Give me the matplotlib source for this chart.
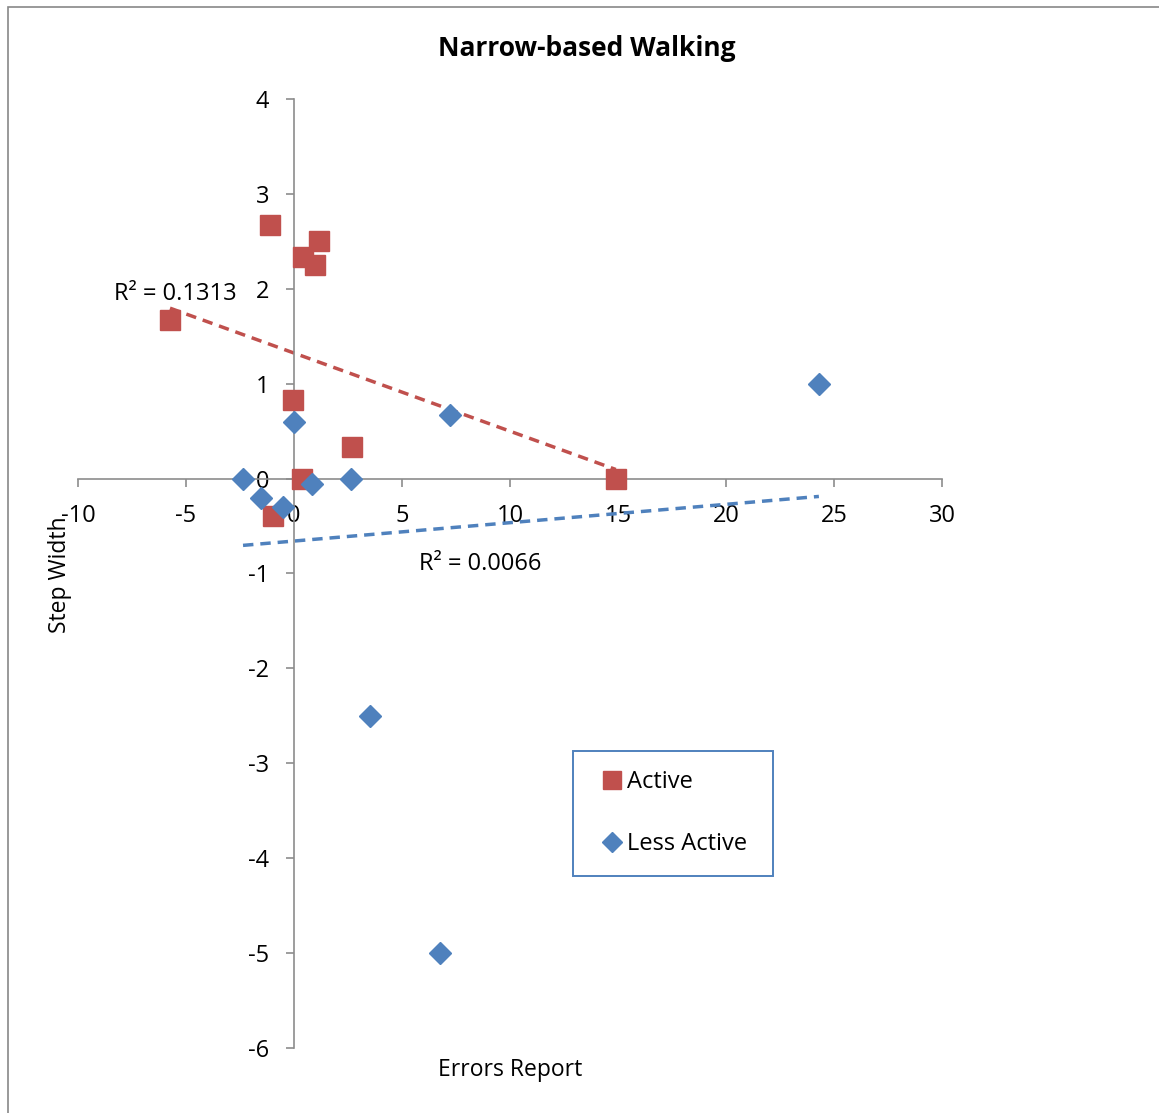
import matplotlib
matplotlib.use("Agg")
import matplotlib.pyplot as plt
from matplotlib.patches import Rectangle
import numpy as np

plt.rcParams['font.family'] = ['Open Sans', 'DejaVu Sans']
plt.rcParams['axes.unicode_minus'] = False

active_x = [-1.11, 1.16, 0.42, 0.97, -5.74, -0.05, 2.69, 0.37, 14.9, -0.97]
active_y = [2.67, 2.50, 2.33, 2.25, 1.67, 0.83, 0.33, 0.0, 0.0, -0.39]
less_x = [24.3, 0.0, 7.2, -2.36, 2.64, -1.53, -0.5, 0.83, 3.5, 6.76]
less_y = [1.0, 0.6, 0.67, 0.0, 0.0, -0.2, -0.3, -0.06, -2.5, -5.0]
r2_active = "R² = 0.1313"
r2_less = "R² = 0.0066"
x_ticks = [-10, -5, 0, 5, 10, 15, 20, 25, 30]
y_ticks = [-6, -5, -4, -3, -2, -1, 0, 1, 2, 3, 4]

red = '#C0504D'
blue = '#4F81BD'
W, H = 1159, 1113

fig = plt.figure(figsize=(11.59, 11.13), dpi=100)
fig.patches.append(Rectangle((8/W, -0.1), 1.2, 0.1 + 1 - 7/H, transform=fig.transFigure,
                             fill=False, edgecolor='#888888', linewidth=1.2))
ax = fig.add_axes([78/W, 1 - 1048/H, 864/W, 949/H])
ax.set_xlim(-10, 30)
ax.set_ylim(-6, 4)

for s in ['top', 'right']:
    ax.spines[s].set_visible(False)
ax.spines['left'].set_position(('data', 0))
ax.spines['bottom'].set_position(('data', 0))
for s in ['left', 'bottom']:
    ax.spines[s].set_color('#8C8C8C')
    ax.spines[s].set_linewidth(1.2)
ax.set_xticks(x_ticks)
ax.set_yticks(y_ticks)
ax.tick_params(axis='both', direction='out', length=6, color='#8C8C8C', labelsize=17, width=1.2)
ax.tick_params(axis='y', pad=12)
ax.tick_params(axis='x', pad=12)

# trendlines
for xs, ys, c in [(active_x, active_y, red), (less_x, less_y, blue)]:
    xs = np.array(xs); ys = np.array(ys)
    m, b = np.polyfit(xs, ys, 1)
    xx = np.array([xs.min(), xs.max()])
    ax.plot(xx, m * xx + b, linestyle=(0, (3, 2)), color=c, linewidth=2.5, zorder=2)

ax.plot(active_x, active_y, 's', color=red, markersize=14, linestyle='none', label='Active', zorder=3)
ax.plot(less_x, less_y, 'D', color=blue, markersize=11, linestyle='none', label='Less Active', zorder=3)

ax.text(-5.5, 1.94, r2_active, fontsize=17, ha='center', va='center')
ax.text(8.6, -0.9, r2_less, fontsize=17, ha='center', va='center')

fig.text(587/W, 1 - 48/H, 'Narrow-based Walking', fontsize=19, fontweight='bold', ha='center', va='center')
fig.text(510/W, 1 - 1070/H, 'Errors Report', fontsize=16.5, ha='center', va='center')
fig.text(60/W, 1 - 575/H, 'Step Width', fontsize=16.5, ha='center', va='center', rotation=90)

# legend
fig.patches.append(Rectangle((573/W, 1 - 876/H), 200/W, 125/H, transform=fig.transFigure,
                             fill=False, edgecolor=blue, linewidth=1.4, zorder=5))
leg = ax.legend(loc='upper left', bbox_to_anchor=((603 - 78) / 864, 1 - (770 - 99) / 949),
                frameon=False, fontsize=17,
                handlelength=0.75, handletextpad=0.25, labelspacing=1.6, borderpad=0,
                borderaxespad=0, markerscale=0.95)

fig.savefig('out.png', dpi=100)
